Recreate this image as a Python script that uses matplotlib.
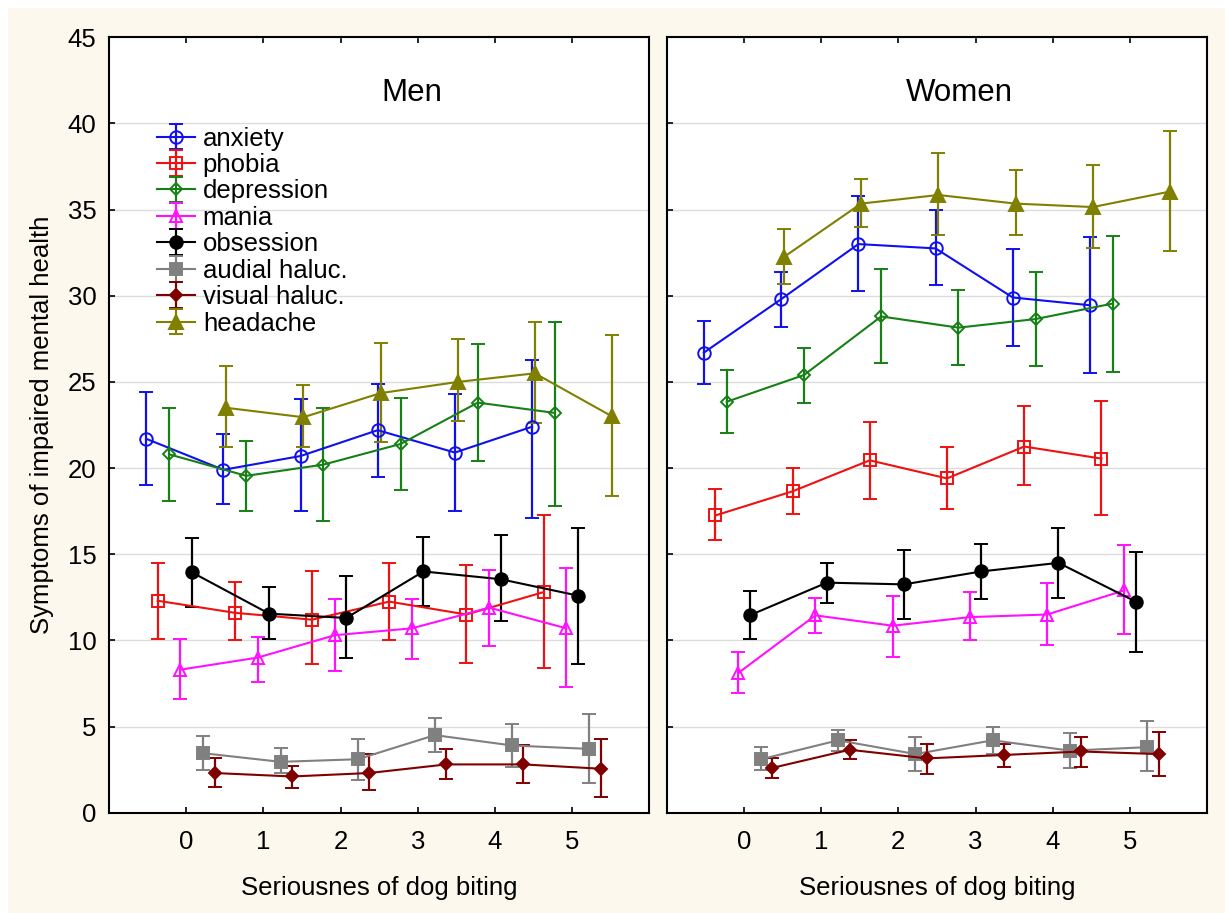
import matplotlib.pyplot as plt
import numpy as np
from matplotlib.patches import Rectangle

plt.rcParams["font.family"] = ["Liberation Sans", "DejaVu Sans"]

biting = [0, 1, 2, 3, 4, 5]
series = ["anxiety", "phobia", "depression", "mania", "obsession",
          "audial haluc.", "visual haluc.", "headache"]

# Men: means and lower / upper ends of the error bars
men_anxiety = [21.7, 19.9, 20.7, 22.2, 20.9, 22.4]
men_anxiety_lo = [19.0, 17.9, 17.5, 19.5, 17.5, 17.1]
men_anxiety_hi = [24.4, 22.0, 24.0, 24.9, 24.3, 26.3]
men_phobia = [12.3, 11.6, 11.2, 12.25, 11.5, 12.8]
men_phobia_lo = [10.1, 10.0, 8.6, 10.0, 8.7, 8.4]
men_phobia_hi = [14.5, 13.4, 14.05, 14.5, 14.4, 17.3]
men_depression = [20.8, 19.55, 20.2, 21.4, 23.8, 23.2]
men_depression_lo = [18.1, 17.5, 16.95, 18.7, 20.4, 17.8]
men_depression_hi = [23.5, 21.6, 23.5, 24.05, 27.2, 28.5]
men_mania = [8.3, 9.0, 10.3, 10.7, 11.9, 10.7]
men_mania_lo = [6.6, 7.6, 8.2, 8.9, 9.7, 7.3]
men_mania_hi = [10.1, 10.2, 12.4, 12.4, 14.1, 14.2]
men_obsession = [13.95, 11.55, 11.3, 14.0, 13.55, 12.6]
men_obsession_lo = [11.95, 10.1, 9.0, 12.0, 11.1, 8.6]
men_obsession_hi = [15.95, 13.1, 13.75, 16.0, 16.1, 16.55]
men_audial = [3.45, 2.95, 3.1, 4.5, 3.9, 3.7]
men_audial_lo = [2.5, 2.3, 1.9, 3.5, 2.65, 1.7]
men_audial_hi = [4.45, 3.75, 4.3, 5.5, 5.15, 5.7]
men_visual = [2.3, 2.1, 2.3, 2.8, 2.8, 2.55]
men_visual_lo = [1.5, 1.45, 1.3, 1.95, 1.75, 0.9]
men_visual_hi = [3.15, 2.7, 3.4, 3.7, 3.9, 4.25]
men_headache = [23.5, 22.95, 24.35, 25.0, 25.5, 23.0]
men_headache_lo = [21.2, 21.2, 21.5, 22.75, 22.6, 18.4]
men_headache_hi = [25.9, 24.8, 27.25, 27.5, 28.5, 27.7]

# Women
women_anxiety = [26.7, 29.8, 33.0, 32.75, 29.9, 29.45]
women_anxiety_lo = [24.9, 28.2, 30.3, 30.6, 27.1, 25.5]
women_anxiety_hi = [28.55, 31.4, 35.8, 34.95, 32.7, 33.4]
women_phobia = [17.25, 18.65, 20.45, 19.4, 21.25, 20.55]
women_phobia_lo = [15.8, 17.35, 18.2, 17.65, 19.0, 17.3]
women_phobia_hi = [18.8, 20.0, 22.7, 21.2, 23.6, 23.9]
women_depression = [23.85, 25.4, 28.8, 28.15, 28.65, 29.55]
women_depression_lo = [22.05, 23.8, 26.1, 26.0, 25.9, 25.6]
women_depression_hi = [25.7, 26.95, 31.55, 30.35, 31.4, 33.45]
women_mania = [8.1, 11.45, 10.85, 11.35, 11.5, 12.9]
women_mania_lo = [6.95, 10.45, 9.05, 10.0, 9.75, 10.35]
women_mania_hi = [9.35, 12.45, 12.6, 12.8, 13.35, 15.55]
women_obsession = [11.45, 13.35, 13.25, 14.0, 14.5, 12.25]
women_obsession_lo = [10.1, 12.15, 11.25, 12.4, 12.45, 9.3]
women_obsession_hi = [12.85, 14.5, 15.25, 15.6, 16.55, 15.15]
women_audial = [3.1, 4.2, 3.4, 4.2, 3.6, 3.8]
women_audial_lo = [2.45, 3.6, 2.4, 3.4, 2.6, 2.4]
women_audial_hi = [3.8, 4.8, 4.4, 4.95, 4.65, 5.3]
women_visual = [2.6, 3.65, 3.15, 3.35, 3.55, 3.4]
women_visual_lo = [2.0, 3.1, 2.25, 2.65, 2.65, 2.15]
women_visual_hi = [3.15, 4.2, 4.0, 4.0, 4.4, 4.7]
women_headache = [32.25, 35.35, 35.85, 35.35, 35.15, 36.05]
women_headache_lo = [30.7, 34.0, 33.5, 33.5, 32.75, 32.6]
women_headache_hi = [33.9, 36.8, 38.3, 37.3, 37.6, 39.55]

men = [
    (men_anxiety, men_anxiety_lo, men_anxiety_hi),
    (men_phobia, men_phobia_lo, men_phobia_hi),
    (men_depression, men_depression_lo, men_depression_hi),
    (men_mania, men_mania_lo, men_mania_hi),
    (men_obsession, men_obsession_lo, men_obsession_hi),
    (men_audial, men_audial_lo, men_audial_hi),
    (men_visual, men_visual_lo, men_visual_hi),
    (men_headache, men_headache_lo, men_headache_hi),
]
women = [
    (women_anxiety, women_anxiety_lo, women_anxiety_hi),
    (women_phobia, women_phobia_lo, women_phobia_hi),
    (women_depression, women_depression_lo, women_depression_hi),
    (women_mania, women_mania_lo, women_mania_hi),
    (women_obsession, women_obsession_lo, women_obsession_hi),
    (women_audial, women_audial_lo, women_audial_hi),
    (women_visual, women_visual_lo, women_visual_hi),
    (women_headache, women_headache_lo, women_headache_hi),
]

# colour, marker, marker size, filled
styles = [
    ("#1010ee", "o", 9.0, False),
    ("#ee1111", "s", 8.0, False),
    ("#168016", "D", 6.3, False),
    ("#ff10ff", "^", 9.0, False),
    ("black", "o", 9.0, True),
    ("#808080", "s", 8.5, True),
    ("#800000", "D", 6.0, True),
    ("#808000", "^", 9.5, True),
]

fig = plt.figure(figsize=(12.25, 9.13), dpi=100, facecolor="white")
fig.patches.append(Rectangle((8 / 1225, 0), 1, 1 - 8 / 913, transform=fig.transFigure,
                             facecolor="#fdf8ee", edgecolor="none", zorder=-10))

ax1 = fig.add_axes([0.0890, 0.1099, 0.4410, 0.8492])
ax2 = fig.add_axes([0.5442, 0.1099, 0.4413, 0.8492])

x = np.array(biting, dtype=float)
step = 0.148

for ax, data, title, tx in [(ax1, men, "Men", 0.561), (ax2, women, "Women", 0.541)]:
    ax.set_facecolor("white")
    for i, ((m, lo, hi), (c, mk, ms, filled)) in enumerate(zip(data, styles)):
        m = np.array(m)
        yerr = [m - np.array(lo), np.array(hi) - m]
        ax.errorbar(x + (i - 3.5) * step, m, yerr=yerr, color=c, lw=1.5,
                    elinewidth=1.6, capsize=4.8, capthick=1.6,
                    marker=mk, markersize=ms, markeredgewidth=1.4,
                    markerfacecolor=c if filled else "none",
                    markeredgecolor=c, label=series[i], zorder=3)
    ax.set_xlim(-1, 6)
    ax.set_ylim(0, 45)
    ax.set_xticks(biting)
    ax.set_yticks(np.arange(0, 46, 5))
    ax.yaxis.grid(True, color="#dcdcdc", lw=1)
    ax.set_axisbelow(True)
    for s in ax.spines.values():
        s.set_linewidth(1.5)
    ax.tick_params(direction="in", length=4, width=1.2, top=True, right=False,
                   labelsize=18.5, pad=12.5)
    ax.tick_params(axis="y", pad=9)
    ax.set_xlabel("Seriousnes of dog biting", fontsize=18.5, labelpad=16)
    ax.text(tx, 0.928, title, transform=ax.transAxes, ha="center", va="center",
            fontsize=22.5)

ax1.set_ylabel("Symptoms of impaired mental health", fontsize=18.5, labelpad=10)
ax2.tick_params(axis="y", labelleft=False)

ax1.legend(loc="upper left", bbox_to_anchor=(0.088, 0.885), frameon=False,
           fontsize=18.5, labelspacing=0.095, handlelength=1.5, handletextpad=0.3,
           borderpad=0, borderaxespad=0)

fig.savefig("out.png", dpi=100, facecolor=fig.get_facecolor())
